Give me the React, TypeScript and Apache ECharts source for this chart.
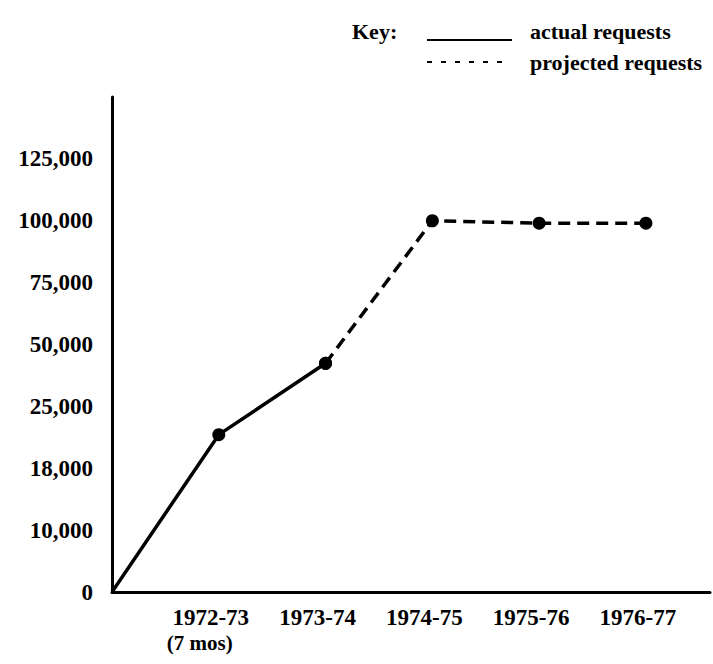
import React, { useEffect, useRef } from "react";
import * as echarts from "echarts";

// ---- data ----
const categories = ["", "1972-73", "1973-74", "1974-75", "1975-76", "1976-77"];
const categoryNotes = ["", "(7 mos)", "", "", "", ""];
const yTickLabels = ["0", "10,000", "18,000", "25,000", "50,000", "75,000", "100,000", "125,000"];
const yTickValues = [0, 10000, 18000, 25000, 50000, 75000, 100000, 125000];
const actualRequests: (number | null)[] = [0, 21800, 42400, null, null, null];
const projectedRequests: (number | null)[] = [null, null, 42400, 100000, 99000, 99000];
const legendKey = "Key:";
const legendActual = "actual requests";
const legendProjected = "projected requests";

// the printed y scale is uneven: ticks are equally spaced, values are not
function toScalePos(v: number): number {
  for (let i = 0; i < yTickValues.length - 1; i++) {
    const a = yTickValues[i];
    const b = yTickValues[i + 1];
    if (v >= a && v <= b) return i + (v - a) / (b - a);
  }
  return yTickValues.length - 1;
}

const FONT = "'Liberation Serif', 'DejaVu Serif', serif";

export default function App() {
  const ref = useRef<HTMLDivElement>(null);
  useEffect(() => {
    if (!ref.current) return;
    const chart = echarts.init(ref.current, undefined, { renderer: "svg" });

    const actualData = actualRequests
      .map((v, i) => (v == null ? null : { value: [i, toScalePos(v)], symbol: i === 0 ? "none" : "circle" }))
      .filter((d) => d != null);
    const projectedData = projectedRequests
      .map((v, i) => (v == null ? null : { value: [i, toScalePos(v)] }))
      .filter((d) => d != null);

    chart.setOption({
      animation: false,
      backgroundColor: "#ffffff",
      grid: { left: 112, right: 1, top: 97, bottom: 72, containLabel: false },
      xAxis: {
        type: "value",
        min: 0,
        max: 5.6,
        interval: 1,
        splitLine: { show: false },
        axisTick: { show: false },
        axisLine: { show: true, lineStyle: { color: "#000", width: 3 } },
        axisLabel: {
          show: true,
          margin: 13,
          color: "#000",
          fontFamily: FONT,
          fontWeight: "bold",
          fontSize: 23,
          lineHeight: 25,
          align: "center",
          padding: [0, 16, 0, 0],
          formatter: (val: number) => {
            const i = Math.round(val);
            if (Math.abs(val - i) > 1e-6 || !categories[i]) return "";
            const note = categoryNotes[i];
            return note ? categories[i] + "\n{n|" + note + "}" : categories[i];
          },
          rich: {
            n: {
              fontFamily: FONT,
              fontWeight: "bold",
              fontSize: 21,
              color: "#000",
              lineHeight: 25,
              padding: [0, 22, 0, 0],
            },
          },
        },
      },
      yAxis: {
        type: "value",
        min: 0,
        max: 8,
        interval: 1,
        splitLine: { show: false },
        axisTick: { show: false },
        axisLine: { show: true, lineStyle: { color: "#000", width: 3 } },
        axisLabel: {
          margin: 19,
          color: "#000",
          fontFamily: FONT,
          fontWeight: "bold",
          fontSize: 23,
          padding: [0, 0, 8, 0],
          formatter: (val: number) => {
            const i = Math.round(val);
            return yTickLabels[i] ?? "";
          },
        },
      },
      series: [
        {
          name: legendActual,
          type: "line",
          data: actualData,
          symbol: "circle",
          symbolSize: 13,
          lineStyle: { color: "#000", width: 3.5, type: "solid" },
          itemStyle: { color: "#000" },
          z: 3,
        },
        {
          name: legendProjected,
          type: "line",
          data: projectedData,
          symbol: "circle",
          symbolSize: 13,
          lineStyle: { color: "#000", width: 3.5, type: [12, 7] },
          itemStyle: { color: "#000" },
          z: 2,
        },
      ],
      graphic: [
        {
          type: "text",
          left: 352,
          top: 20,
          style: { text: legendKey, font: "bold 22px " + FONT, fill: "#000" },
        },
        {
          type: "line",
          shape: { x1: 427, y1: 40, x2: 512, y2: 40 },
          style: { stroke: "#000", lineWidth: 2 },
        },
        {
          type: "text",
          left: 530,
          top: 20,
          style: { text: legendActual, font: "bold 22px " + FONT, fill: "#000" },
        },
        {
          type: "line",
          shape: { x1: 427, y1: 62, x2: 503, y2: 62 },
          style: { stroke: "#000", lineWidth: 2, lineDash: [5, 9] },
        },
        {
          type: "text",
          left: 530,
          top: 51,
          style: { text: legendProjected, font: "bold 22px " + FONT, fill: "#000" },
        },
      ],
    });
    return () => chart.dispose();
  }, []);
  return (
    <div
      ref={ref}
      style={{ position: "fixed", left: 0, top: 0, width: 713, height: 664, background: "#fff" }}
    />
  );
}
